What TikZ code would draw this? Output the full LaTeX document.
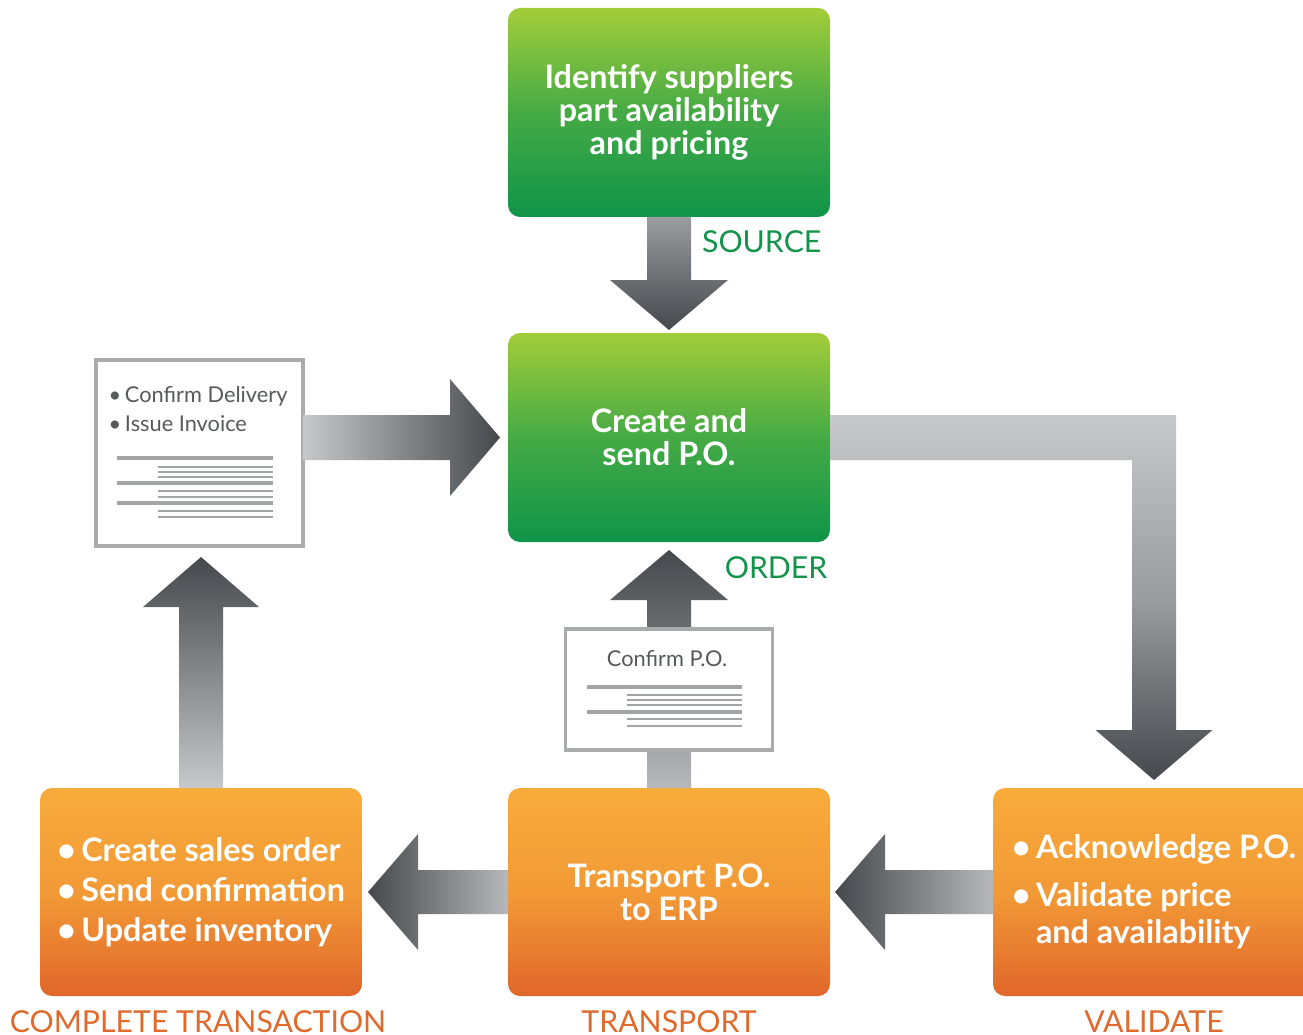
\documentclass[tikz,border=0pt]{standalone}
\usepackage{fontspec}
\setmainfont{Lato}
\usetikzlibrary{positioning,calc}

\definecolor{greenTop}{HTML}{A3CD3A}
\definecolor{greenMid}{HTML}{45AA45}
\definecolor{greenBot}{HTML}{0F9449}
\definecolor{orangeTop}{HTML}{F8AB3B}
\definecolor{orangeMid}{HTML}{F29A36}
\definecolor{orangeBot}{HTML}{E0662B}
\definecolor{labelGreen}{HTML}{14934B}
\definecolor{labelOrange}{HTML}{DF6A2C}
\definecolor{arrowLight}{HTML}{C6C8CA}
\definecolor{arrowSoft}{HTML}{B6B8BA}
\definecolor{arrowMid}{HTML}{9A9CA0}
\definecolor{arrowDark}{HTML}{45484C}
\definecolor{docGray}{HTML}{A9ABAD}
\definecolor{lineGray}{HTML}{A2A4A6}
\definecolor{docText}{HTML}{58595B}

\newcommand{\boxfont}{\fontsize{9.2}{9.4}\selectfont\bfseries}
\newcommand{\stagefont}{\fontsize{8.6}{10}\selectfont}
\newcommand{\docfont}{\fontsize{6.2}{8.2}\selectfont}

\begin{document}
\begin{tikzpicture}[
    box/.style={rounded corners=0.12cm, minimum width=3.22cm, minimum height=2.09cm,
      inner sep=0pt, outer sep=0pt, text=white, font=\boxfont},
    greenbox/.style={box, align=center, top color=greenTop, bottom color=greenBot, middle color=greenMid},
    orangebox/.style={box, top color=orangeTop, bottom color=orangeBot, middle color=orangeMid},
    doc/.style={draw=docGray, line width=0.9pt, fill=white, inner sep=0pt, outer sep=0pt, minimum width=2.07cm},
    doctext/.style={text=docText, font=\docfont, inner sep=0pt, align=left},
    thickline/.style={draw=lineGray, line width=0.95pt},
    thinline/.style={draw=lineGray, line width=0.35pt},
    stage/.style={font=\stagefont, inner sep=0pt},
    greenlabel/.style={stage, text=labelGreen},
    orangelabel/.style={stage, text=labelOrange}]
  % picture size
  \useasboundingbox (0,0) rectangle (13.03,-10.34);
  \clip (0,0) rectangle (13.03,-10.34);

  % draw stage boxes
  \node[greenbox] (source) at (6.69,-1.125) {Identify suppliers\\part availability\\and pricing};
  \node[greenbox, below=1.16cm of source] (order) {Create and\\send P.O.};
  \node[orangebox, align=center, below=2.46cm of order, minimum height=2.08cm] (transport) {Transport P.O.\\to ERP};
  \node[orangebox, align=left, left=1.46cm of transport, minimum height=2.08cm] (complete)
    {\textbullet\,Create sales order\\[2pt]\textbullet\,Send confirmation\\[2pt]\textbullet\,Update inventory};
  \node[orangebox, align=left, right=1.63cm of transport, minimum height=2.08cm] (validate)
    {\textbullet\,Acknowledge P.O.\\[4.2pt]\textbullet\,Validate price\\[1.1pt]\hphantom{\textbullet\,}and availability};

  % draw stage labels
  \node[greenlabel, anchor=base east] (sourcelbl) at ($(source.south east)+(-0.08,-0.36)$) {SOURCE};
  \node[greenlabel, anchor=base east] (orderlbl) at ($(order.south east)+(-0.02,-0.36)$) {ORDER};
  \node[orangelabel, anchor=base] (completelbl) at ($(complete.south)+(-0.03,-0.36)$) {COMPLETE TRANSACTION};
  \node[orangelabel, anchor=base] (transportlbl) at ($(transport.south)+(0,-0.36)$) {TRANSPORT};
  \node[orangelabel, anchor=base] (validatelbl) at ($(validate.south)+(0,-0.36)$) {VALIDATE};

  % draw invoice sheet
  \node[doc, minimum height=1.86cm] (doc1) at (1.995,-4.53) {};
  \node[doctext, anchor=north west] (doc1txt) at ($(doc1.north west)+(0.12,-0.26)$)
    {\textbullet\,Confirm Delivery\\\textbullet\,Issue Invoice};
  \foreach \y in {0.98,1.23,1.43}
    \draw[thickline] ($(doc1.north west)+(0.21,-\y)$) -- ($(doc1.north west)+(1.77,-\y)$);
  \foreach \y in {1.07,1.12,1.17,1.31,1.37,1.51,1.57}
    \draw[thinline] ($(doc1.north west)+(0.62,-\y)$) -- ($(doc1.north west)+(1.77,-\y)$);

  % source -> order
  \shade[top color=arrowMid, bottom color=arrowDark]
    ($(source.south)+(-0.22,0)$) -- ($(source.south)+(0.22,0)$)
    -- ($(order.north)+(0.22,0.53)$) -- ($(order.north)+(0.59,0.53)$)
    -- ($(order.north)+(0,0.03)$)
    -- ($(order.north)+(-0.59,0.53)$) -- ($(order.north)+(-0.22,0.53)$) -- cycle;

  % order -> validate (bent)
  \coordinate (bend) at (validate.north |- order.east);
  \shade[top color=arrowLight, bottom color=arrowDark, middle color=arrowMid]
    ($(order.east)+(0,0.225)$) -- ($(bend)+(0.22,0.225)$)
    -- ($(validate.north)+(0.22,0.58)$) -- ($(validate.north)+(0.585,0.58)$)
    -- ($(validate.north)+(0,0.08)$)
    -- ($(validate.north)+(-0.585,0.58)$) -- ($(validate.north)+(-0.22,0.58)$)
    -- ($(bend)+(-0.22,-0.225)$) -- ($(order.east)+(0,-0.225)$) -- cycle;

  % validate -> transport
  \shade[left color=arrowDark, right color=arrowSoft]
    ($(validate.west)+(0,0.22)$) -- ($(transport.east)+(0.55,0.22)$)
    -- ($(transport.east)+(0.55,0.58)$) -- ($(transport.east)+(0.05,0)$)
    -- ($(transport.east)+(0.55,-0.58)$) -- ($(transport.east)+(0.55,-0.22)$)
    -- ($(validate.west)+(0,-0.22)$) -- cycle;

  % transport -> complete
  \shade[left color=arrowDark, right color=arrowSoft]
    ($(transport.west)+(0,0.22)$) -- ($(complete.east)+(0.56,0.22)$)
    -- ($(complete.east)+(0.56,0.58)$) -- ($(complete.east)+(0.06,0)$)
    -- ($(complete.east)+(0.56,-0.58)$) -- ($(complete.east)+(0.56,-0.22)$)
    -- ($(transport.west)+(0,-0.22)$) -- cycle;

  % complete -> invoice
  \coordinate (up1) at (complete.north |- doc1.south);
  \shade[bottom color=arrowLight, top color=arrowDark]
    ($(complete.north)+(-0.22,0)$) -- ($(up1)+(-0.22,-0.61)$)
    -- ($(up1)+(-0.58,-0.61)$) -- ($(up1)+(0,-0.11)$)
    -- ($(up1)+(0.58,-0.61)$) -- ($(up1)+(0.22,-0.61)$)
    -- ($(complete.north)+(0.22,0)$) -- cycle;

  % invoice -> order
  \coordinate (r0) at (doc1.east |- order.west);
  \shade[left color=arrowLight, right color=arrowDark]
    ($(r0)+(0,0.225)$) -- ($(order.west)+(-0.58,0.225)$)
    -- ($(order.west)+(-0.58,0.585)$) -- ($(order.west)+(-0.08,0)$)
    -- ($(order.west)+(-0.58,-0.585)$) -- ($(order.west)+(-0.58,-0.225)$)
    -- ($(r0)+(0,-0.225)$) -- cycle;

  % transport -> order
  \shade[bottom color=arrowSoft, top color=arrowDark]
    ($(transport.north)+(-0.22,0)$) -- ($(order.south)+(-0.22,-0.58)$)
    -- ($(order.south)+(-0.59,-0.58)$) -- ($(order.south)+(0,-0.08)$)
    -- ($(order.south)+(0.59,-0.58)$) -- ($(order.south)+(0.22,-0.58)$)
    -- ($(transport.north)+(0.22,0)$) -- cycle;

  % draw confirmation sheet
  \node[doc, minimum height=1.21cm, below=0.87cm of order] (doc2) {};
  \node[doctext] (doc2txt) at ($(doc2.north)+(-0.02,-0.30)$) {Confirm P.O.};
  \foreach \y in {0.58,0.83}
    \draw[thickline] ($(doc2.north west)+(0.21,-\y)$) -- ($(doc2.north west)+(1.76,-\y)$);
  \foreach \y in {0.66,0.71,0.76,0.90,0.97}
    \draw[thinline] ($(doc2.north west)+(0.61,-\y)$) -- ($(doc2.north west)+(1.76,-\y)$);
\end{tikzpicture}
\end{document}
